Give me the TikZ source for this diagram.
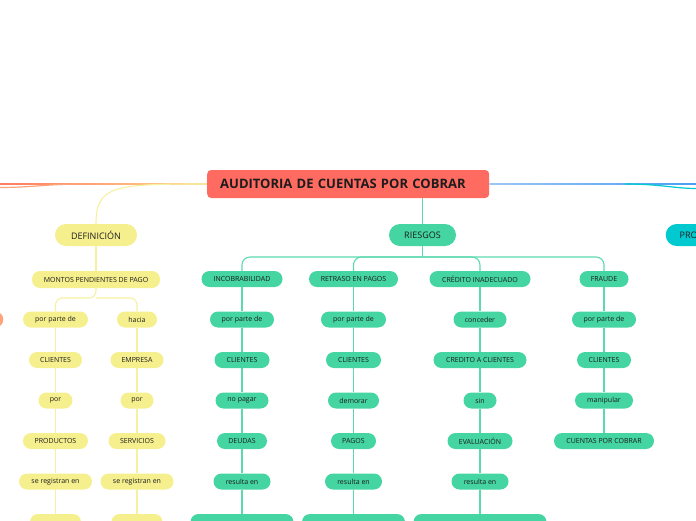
\documentclass[tikz,border=0pt]{standalone}
\usepackage{fontspec}
\setmainfont{Open Sans}
\usetikzlibrary{backgrounds}
\definecolor{mainred}{HTML}{FF6B61}
\definecolor{ylw}{HTML}{F6EF8E}
\definecolor{ylwline}{HTML}{F7F0A0}
\definecolor{grn}{HTML}{44D5A2}
\definecolor{grnline}{HTML}{5CDAAE}
\definecolor{cyn}{HTML}{00C9CF}
\definecolor{blu}{HTML}{4A9EF5}
\definecolor{blulight}{HTML}{9CC6F5}
\definecolor{orn}{HTML}{FFA37A}
\definecolor{lred}{HTML}{FF7A62}
\definecolor{lyel}{HTML}{FFD98E}
\definecolor{txt}{HTML}{1C1C1C}
\begin{document}
\begin{tikzpicture}[x=1pt,y=-1pt,
  pill/.style={rounded corners=8pt, minimum height=16pt, inner sep=0pt, text=txt, font=\fontsize{7}{8}\selectfont},
  ybox/.style={pill, fill=ylw},
  gbox/.style={pill, fill=grn},
  bigpill/.style={rounded corners=11pt, minimum height=22pt, inner sep=0pt, text=txt, font=\fontsize{9}{10}\selectfont},
  yl/.style={draw=ylwline, line width=1.1pt},
  gl/.style={draw=grnline, line width=1.1pt},
]
\useasboundingbox (0,0) rectangle (696,520);

% central node
\node[fill=mainred, rounded corners=4pt, minimum height=28pt, text width=256pt, inner xsep=13pt, inner ysep=0pt, align=left, text=txt, font=\bfseries\fontsize{13}{15}\selectfont, anchor=west] (main) at (207,184) {AUDITORIA DE CUENTAS POR COBRAR};

% main branches
\node[bigpill, fill=ylw, minimum width=82pt] (def) at (96,235) {DEFINICIÓN};
\node[bigpill, fill=grn, minimum width=67pt] (ries) at (422.5,235) {RIESGOS};
\node[bigpill, fill=cyn, anchor=west, text width=60pt, inner xsep=14pt, align=left] (pro) at (665.5,235) {PRO};
\node[pill, fill=orn, minimum width=40pt, anchor=east] (orn) at (3.5,319.5) {};

% DEFINICION subtree
\node[ybox, minimum width=128pt, minimum height=17pt] (mont) at (96,279.5) {MONTOS PENDIENTES DE PAGO};
\node[ybox, minimum width=65pt] (a1) at (55.5,319.5) {por parte de};
\node[ybox, minimum width=53pt] (a2) at (55.5,360) {CLIENTES};
\node[ybox, minimum width=34pt] (a3) at (55.5,400.5) {por};
\node[ybox, minimum width=65pt] (a4) at (55.5,441) {PRODUCTOS};
\node[ybox, minimum width=73pt] (a5) at (55.5,481.5) {se registran en};
\node[ybox, minimum width=51pt] (a6) at (55.5,522) {};
\node[ybox, minimum width=40pt] (b1) at (137,319.5) {hacia};
\node[ybox, minimum width=53pt] (b2) at (137,360) {EMPRESA};
\node[ybox, minimum width=33pt] (b3) at (137,400.5) {por};
\node[ybox, minimum width=57pt] (b4) at (137,441) {SERVICIOS};
\node[ybox, minimum width=73pt] (b5) at (137,481.5) {se registran en};
\node[ybox, minimum width=51pt] (b6) at (137,522) {};

% RIESGOS subtree
\node[gbox, minimum width=81pt] (c0) at (242,279) {INCOBRABILIDAD};
\node[gbox, minimum width=64pt] (c1) at (242,319.5) {por parte de};
\node[gbox, minimum width=55pt] (c2) at (242,360) {CLIENTES};
\node[gbox, minimum width=53pt] (c3) at (242,400.5) {no pagar};
\node[gbox, minimum width=50pt] (c4) at (242,441) {DEUDAS};
\node[gbox, minimum width=57pt] (c5) at (242,481.5) {resulta en};
\node[gbox, minimum width=103pt] (c6) at (242,522) {};

\node[gbox, minimum width=89pt] (d0) at (353.5,279) {RETRASO EN PAGOS};
\node[gbox, minimum width=65pt] (d1) at (353.5,319.5) {por parte de};
\node[gbox, minimum width=55pt] (d2) at (353.5,360) {CLIENTES};
\node[gbox, minimum width=51pt] (d3) at (353.5,400.5) {demorar};
\node[gbox, minimum width=45pt] (d4) at (353.5,441) {PAGOS};
\node[gbox, minimum width=57pt] (d5) at (353.5,481.5) {resulta en};
\node[gbox, minimum width=103pt] (d6) at (353.5,522) {};

\node[gbox, minimum width=101pt] (e0) at (480,279) {CRÉDITO INADECUADO};
\node[gbox, minimum width=53pt] (e1) at (480,319.5) {conceder};
\node[gbox, minimum width=93pt] (e2) at (480,360) {CREDITO A CLIENTES};
\node[gbox, minimum width=33pt] (e3) at (480,400.5) {sin};
\node[gbox, minimum width=65pt] (e4) at (480,441) {EVALUACIÓN};
\node[gbox, minimum width=57pt] (e5) at (480,481.5) {resulta en};
\node[gbox, minimum width=133pt] (e6) at (480,522) {};

\node[gbox, minimum width=49pt] (f0) at (604,279) {FRAUDE};
\node[gbox, minimum width=64pt] (f1) at (604,319.5) {por parte de};
\node[gbox, minimum width=54pt] (f2) at (604,360) {CLIENTES};
\node[gbox, minimum width=58pt] (f3) at (604,400.5) {manipular};
\node[gbox, minimum width=100pt] (f4) at (604,441) {CUENTAS POR COBRAR};

\coordinate (L1) at (0,184);
\coordinate (L2) at (0,187.5);
\coordinate (L3) at (80,184);
\coordinate (R1) at (696,184);
\coordinate (C1) at (625,184);
\coordinate (R2) at (696,188.5);
\coordinate (yb) at (96,298);
\coordinate (gb) at (422.5,257);

\begin{pgfonlayer}{background}
  % left lines
  \shade[left color=lred, right color=lyel] (L1) ++(0,-0.85) rectangle ([yshift=-0.85pt]main.west);
  \draw[draw=orn, line width=1.2pt] (L2) .. controls (30,187.5) and (50,184) .. (L3);
  % right lines
  \shade[left color=blulight, right color=blu] ([yshift=0.85pt]main.east) rectangle ([yshift=-0.85pt]R1);
  \draw[draw=cyn, line width=1.2pt] (C1) .. controls (660,184) and (675,188.5) .. (R2);
  % definicion
  \draw[yl] (main.west) .. controls (115,184) and (96,185) .. (def.north);
  \draw[yl] (def.south) -- (mont.north);
  \draw[yl, rounded corners=7pt] (mont.south) -- (yb) -| (a1.north);
  \draw[yl, rounded corners=7pt] (yb) -| (b1.north);
  \foreach \i/\j in {1/2,2/3,3/4,4/5,5/6} {
    \draw[yl] (a\i.south) -- (a\j.north);
    \draw[yl] (b\i.south) -- (b\j.north);
  }
  % riesgos
  \draw[gl] (ries.north |- main.south) -- (ries.north);
  \draw[gl] (ries.south) -- (gb);
  \foreach \c in {c,d,e,f} {
    \draw[gl, rounded corners=8pt] (gb) -| (\c0.north);
  }
  \foreach \c in {c,d,e} {
    \foreach \i/\j in {0/1,1/2,2/3,3/4,4/5,5/6} {
      \draw[gl] (\c\i.south) -- (\c\j.north);
    }
  }
  \foreach \i/\j in {0/1,1/2,2/3,3/4} {
    \draw[gl] (f\i.south) -- (f\j.north);
  }
\end{pgfonlayer}
\end{tikzpicture}
\end{document}
